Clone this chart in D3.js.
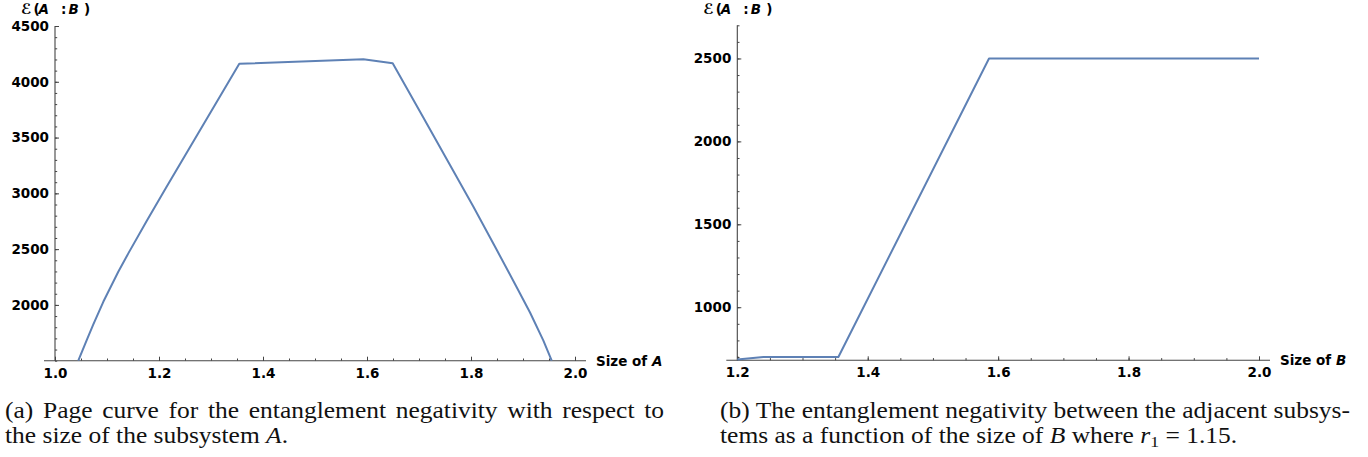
<!DOCTYPE html>
<html><head><meta charset="utf-8">
<script src="https://cdn.jsdelivr.net/npm/d3@7"></script>
<style>
body{margin:0;background:#fff}
svg{display:block}
.tick text{font-family:"DejaVu Sans",sans-serif;font-weight:bold;font-size:13.5px;fill:#000}
.lbl{font-family:"DejaVu Sans",sans-serif;font-weight:bold;font-size:13.5px;fill:#000}
.cap{font-family:"Liberation Serif",serif;font-size:22.3px;fill:#111}
</style>
</head><body>
<svg id="c" width="1368" height="457"></svg>
<script>
// (a) negativity against the size of A
const sizeA = [1.0448, 1.0610, 1.0737, 1.0929, 1.1217, 1.1410, 1.1763, 1.2135, 1.3544,
               1.5930, 1.6494, 1.7083, 1.7596, 1.8044, 1.8494, 1.8879, 1.9135, 1.9390, 1.9552];
const negA  = [1500, 1685, 1826, 2028, 2297, 2462, 2753, 3050, 4161,
               4203, 4167, 3679, 3254, 2882, 2494, 2159, 1932, 1682, 1500];
const xTicksA = [1.0, 1.2, 1.4, 1.6, 1.8, 2.0];
const yTicksA = [2000, 2500, 3000, 3500, 4000, 4500];

// (b) negativity against the size of B, r1 = 1.15
const sizeB = [1.2, 1.24, 1.355, 1.586, 2.0];
const negB  = [685, 700, 700, 2500, 2500];
const xTicksB = [1.2, 1.4, 1.6, 1.8, 2.0];
const yTicksB = [1000, 1500, 2000, 2500];

const svg = d3.select("#c");
const AXIS = "#444";
const LINE = "#5E81B5";

function panel(o) {
  const x = d3.scaleLinear().domain(o.xDom).range(o.xRange);
  const y = d3.scaleLinear().domain(o.yDom).range(o.yRange);
  const g = svg.append("g");
  const [x0, x1] = o.xRange, [y0, y1] = o.yRange;

  // axis lines (x axis runs a little past both ends)
  g.append("line").attr("x1", x0 - 11).attr("x2", x1 + 11).attr("y1", y0).attr("y2", y0)
    .attr("stroke", AXIS).attr("stroke-width", 1.1);
  g.append("line").attr("x1", x0).attr("x2", x0).attr("y1", y0).attr("y2", y1)
    .attr("stroke", AXIS).attr("stroke-width", 1.1);

  // minor ticks
  const xMinor = d3.range(o.xDom[0], o.xDom[1] + 1e-9, 0.05).map(v => +v.toFixed(2));
  const yMinor = d3.range(Math.ceil(o.yDom[0] / 100) * 100, o.yDom[1] + 1e-9, 100);
  g.append("g").attr("transform", `translate(0,${y0})`)
    .call(d3.axisBottom(x).tickValues(xMinor).tickSizeInner(-2.2).tickSizeOuter(0).tickFormat(""))
    .call(s => s.select(".domain").remove())
    .call(s => s.selectAll("line").attr("stroke", AXIS));
  g.append("g").attr("transform", `translate(${x0},0)`)
    .call(d3.axisLeft(y).tickValues(yMinor).tickSizeInner(-2.2).tickSizeOuter(0).tickFormat(""))
    .call(s => s.select(".domain").remove())
    .call(s => s.selectAll("line").attr("stroke", AXIS));

  // major ticks with labels
  g.append("g").attr("transform", `translate(0,${y0})`)
    .call(d3.axisBottom(x).tickValues(o.xTicks).tickSizeInner(-4).tickSizeOuter(0)
      .tickPadding(7.5).tickFormat(d3.format(".1f")))
    .call(s => s.select(".domain").remove())
    .call(s => s.selectAll("line").attr("stroke", AXIS));
  g.append("g").attr("transform", `translate(${x0},0)`)
    .call(d3.axisLeft(y).tickValues(o.yTicks).tickSizeInner(-4).tickSizeOuter(0)
      .tickPadding(6).tickFormat(d3.format("d")))
    .call(s => s.select(".domain").remove())
    .call(s => s.selectAll("line").attr("stroke", AXIS));

  // curve
  g.append("path").datum(d3.zip(o.xs, o.ys))
    .attr("d", d3.line().x(d => x(d[0])).y(d => y(d[1])))
    .attr("fill", "none").attr("stroke", LINE).attr("stroke-width", 2)
    .attr("stroke-linejoin", "round");

  // vertical axis title  ℰ (A : B)
  const t = g.append("text").attr("class", "lbl").attr("y", 14);
  t.append("tspan").attr("x", x0 - 34).attr("font-size", "14.5px").text("ℰ");
  t.append("tspan").attr("x", x0 - 21.5).text("(");
  t.append("tspan").attr("x", x0 - 16.5).attr("font-style", "italic").text("A");
  t.append("tspan").attr("x", x0 + 6).text(":");
  t.append("tspan").attr("x", x0 + 13.5).attr("font-style", "italic").text("B");
  t.append("tspan").attr("x", x0 + 29).text(")");

  // horizontal axis title
  const xt = g.append("text").attr("class", "lbl").attr("x", x1 + 21).attr("y", y0 + 5)
    .style("white-space", "pre");
  xt.append("tspan").text("Size of ");
  xt.append("tspan").attr("font-style", "italic").text(o.xVar);
}

panel({xDom: [1.0, 2.0], xRange: [55, 575], yDom: [1500, 4500], yRange: [360.7, 26],
       xs: sizeA, ys: negA, xTicks: xTicksA, yTicks: yTicksA, xVar: "A"});
panel({xDom: [1.2, 2.0], xRange: [737.3, 1259], yDom: [680, 2700], yRange: [360.3, 25.3],
       xs: sizeB, ys: negB, xTicks: xTicksB, yTicks: yTicksB, xVar: "B"});

// captions, set a little wide; full lines are justified by stretching the word spaces
const CAP_SX = 1.143;
function capLine(x, y, parts, width) {
  const t = svg.append("text").attr("class", "cap")
    .attr("transform", `translate(${x},${y}) scale(${CAP_SX},1)`)
    .style("white-space", "pre");
  parts.forEach(p => {
    const s = t.append("tspan").text(p.t);
    if (p.i) s.attr("font-style", "italic");
    if (p.sub) s.attr("font-size", "15.5px").attr("dy", 3.5);
    if (p.up) s.attr("dy", -3.5);
  });
  if (width) {
    const nat = t.node().getComputedTextLength();
    const spaces = parts.map(p => p.t).join("").split(" ").length - 1;
    t.attr("word-spacing", (width / CAP_SX - nat) / spaces);
  }
}
capLine(5, 418, [{t: "(a) Page curve for the entanglement negativity with respect to"}], 659);
capLine(5, 443, [{t: "the size of the subsystem "}, {t: "A", i: 1}, {t: "."}]);
capLine(720, 418, [{t: "(b) The entanglement negativity between the adjacent subsys-"}], 630);
capLine(720, 443, [{t: "tems as a function of the size of "}, {t: "B", i: 1}, {t: " where "},
                   {t: "r", i: 1}, {t: "1", sub: 1}, {t: " = 1.15.", up: 1}]);
</script>
</body></html>
